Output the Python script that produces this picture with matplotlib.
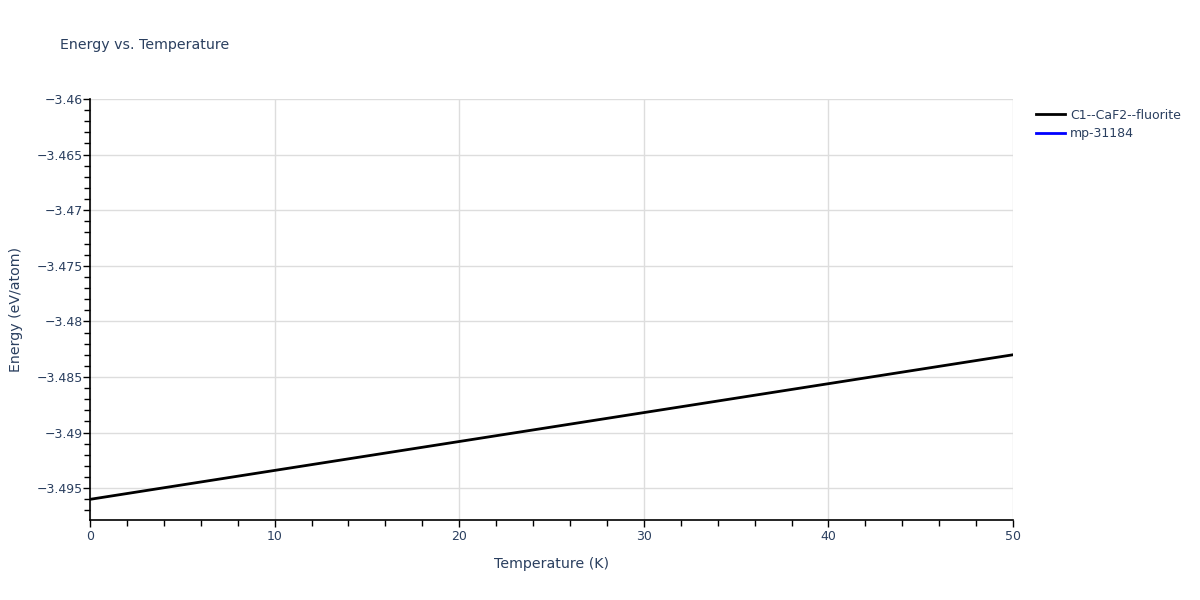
import matplotlib
matplotlib.use('Agg')
import matplotlib.pyplot as plt
from matplotlib.ticker import MultipleLocator, FuncFormatter

# values
temperature = [0, 10, 20, 30, 40, 50]
energy_fluorite = [-3.4960, -3.4934, -3.4908, -3.4882, -3.4856, -3.4830]
# the mp-31184 trace shows only in the legend
temperature_mp = []
energy_mp = []

text_color = '#2a3f5f'
grid_color = '#dddddd'

fig = plt.figure(figsize=(12, 6), dpi=100)
ax = fig.add_axes([0.075, 0.1333, 0.7692, 0.7017])

ax.plot(temperature, energy_fluorite, color='black', lw=2, label='C1--CaF2--fluorite')
ax.plot(temperature_mp, energy_mp, color='blue', lw=2, label='mp-31184')

ax.set_xlim(0, 50)
ax.set_ylim(-3.49786, -3.46)

ax.xaxis.set_major_locator(MultipleLocator(10))
ax.xaxis.set_minor_locator(MultipleLocator(2))
ax.yaxis.set_major_locator(MultipleLocator(0.005))
ax.yaxis.set_minor_locator(MultipleLocator(0.001))


def fmt(v, pos):
    s = '{:.3f}'.format(v).rstrip('0').rstrip('.')
    return s.replace('-', '\u2212')


ax.yaxis.set_major_formatter(FuncFormatter(fmt))

ax.grid(True, which='major', color=grid_color, lw=1)
ax.set_axisbelow(True)
for side in ['top', 'right']:
    ax.spines[side].set_visible(False)
for side in ['left', 'bottom']:
    ax.spines[side].set_color('black')
    ax.spines[side].set_linewidth(1.2)

ax.tick_params(which='both', direction='out', colors='black', labelcolor=text_color, labelsize=9)
ax.tick_params(which='major', length=5, width=1)
ax.tick_params(which='minor', length=4, width=1)
ax.tick_params(axis='y', which='major', pad=0)
ax.tick_params(axis='x', which='major', pad=2)

ax.set_xlabel('Temperature (K)', color=text_color, fontsize=10.2, labelpad=10)
ax.set_ylabel('Energy (eV/atom)', color=text_color, fontsize=10.2, labelpad=10)

fig.text(0.05, 0.925, 'Energy vs. Temperature', color=text_color, fontsize=10.2, va='center')

leg = ax.legend(loc='upper left', bbox_to_anchor=(0.8595, 0.827), bbox_transform=fig.transFigure,
                frameon=False, fontsize=9, handlelength=2.3, handletextpad=0.4,
                labelspacing=0.45, borderaxespad=0)
for t in leg.get_texts():
    t.set_color(text_color)

fig.savefig('out.png', dpi=100)
